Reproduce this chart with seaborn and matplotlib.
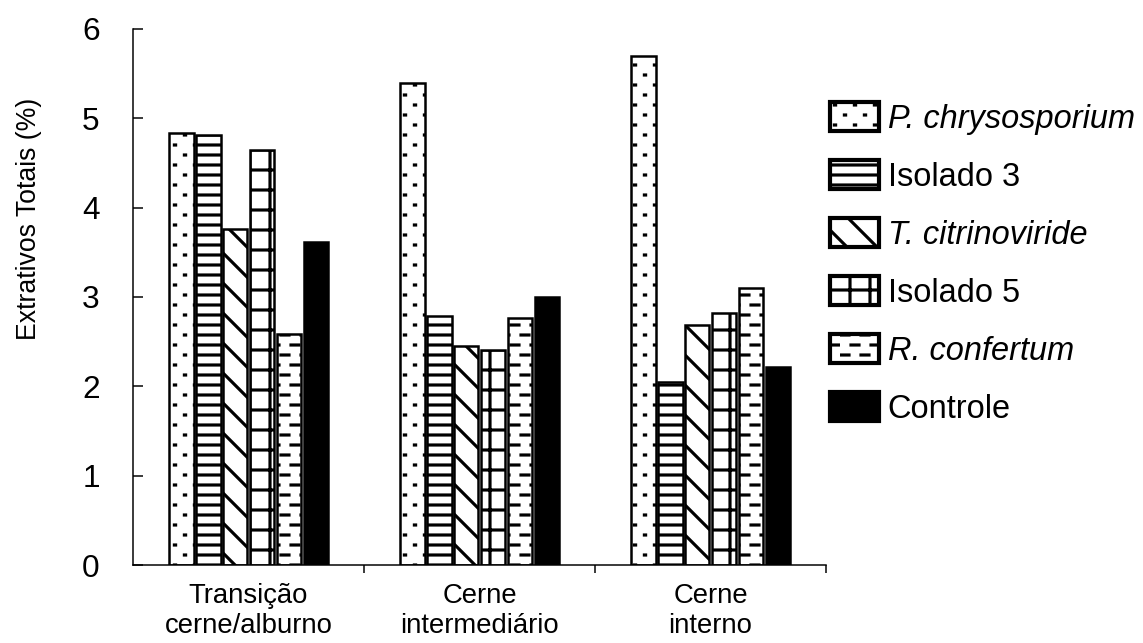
import warnings
import numpy as np
import pandas as pd
import seaborn as sns
import matplotlib.pyplot as plt
from matplotlib import hatch as mhatch
from matplotlib.path import Path
from matplotlib.ticker import FixedLocator

warnings.filterwarnings('ignore')

# --- dados ---
grupos = ['Transição\ncerne/alburno', 'Cerne\nintermediário', 'Cerne\ninterno']
tratamentos = ['P. chrysosporium', 'Isolado 3', 'T. citrinoviride',
               'Isolado 5', 'R. confertum', 'Controle']

p_chrysosporium = [4.84, 5.40, 5.70]
isolado_3 = [4.81, 2.79, 2.05]
t_citrinoviride = [3.76, 2.45, 2.69]
isolado_5 = [4.65, 2.41, 2.82]
r_confertum = [2.58, 2.77, 3.10]
controle = [3.61, 3.00, 2.22]

series = [p_chrysosporium, isolado_3, t_citrinoviride, isolado_5, r_confertum, controle]

# estilo de cada tratamento
hachuras = ['::', '--', 'd', '+', '==', '']
cores = ['white', 'white', 'white', 'white', 'white', 'black']
italico = [True, False, True, False, True, False]


# hachura "tijolo": pontos (':') ou tracos ('=') em linhas alternadas
def hachura_tijolo(char, frac):
    class Tijolo(mhatch.HatchPatternBase):
        def __init__(self, hatch, density):
            self.n = hatch.count(char) * density
            self.num_vertices = self.n * (self.n // 2) * 2

        def set_vertices_and_codes(self, vertices, codes):
            k = 0
            for i in range(self.n):
                y = (i + 0.5) / self.n
                for j in range(self.n // 2):
                    x0 = (2 * j + (i % 2) + 0.5 - frac / 2) / self.n
                    vertices[k] = (x0, y)
                    vertices[k + 1] = (x0 + frac / self.n, y)
                    codes[k] = Path.MOVETO
                    codes[k + 1] = Path.LINETO
                    k += 2
    return Tijolo


# diagonal descendente com 8 linhas por polegada ('d')
class Diagonal(mhatch.HatchPatternBase):
    def __init__(self, hatch, density):
        self.n = hatch.count('d') * 8
        self.num_vertices = (self.n + 1) * 2 if self.n else 0

    def set_vertices_and_codes(self, vertices, codes):
        steps = np.linspace(-0.5, 0.5, self.n + 1)
        vertices[0::2, 0] = 0.0 + steps
        vertices[0::2, 1] = 1.0 + steps
        vertices[1::2, 0] = 1.0 + steps
        vertices[1::2, 1] = 0.0 + steps
        codes[0::2] = Path.MOVETO
        codes[1::2] = Path.LINETO


mhatch._hatch_types.append(hachura_tijolo(':', 0.12))
mhatch._hatch_types.append(hachura_tijolo('=', 0.8))
mhatch._hatch_types.append(Diagonal)

df = pd.DataFrame({
    'grupo': grupos * len(tratamentos),
    'tratamento': [t for t in tratamentos for _ in grupos],
    'valor': [v for s in series for v in s],
})

sns.set_style('ticks', rc={'text.color': 'black', 'axes.labelcolor': 'black',
                           'xtick.color': 'black', 'ytick.color': 'black',
                           'axes.edgecolor': 'black'})
plt.rcParams['font.family'] = ['Liberation Sans', 'DejaVu Sans']
plt.rcParams['hatch.linewidth'] = 1.9

fig, ax = plt.subplots(figsize=(1143 / 120, 643 / 120), dpi=120)
fig.subplots_adjust(left=0.1164, right=0.7227, top=0.955, bottom=0.1213)

sns.barplot(data=df, x='grupo', y='valor', hue='tratamento', order=grupos,
            hue_order=tratamentos, palette=cores, saturation=1,
            edgecolor='black', linewidth=1.5, width=0.7, gap=0.08,
            legend=False, ax=ax)

for barras, h in zip(ax.containers, hachuras):
    for b in barras:
        b.set_hatch(h)

# eixos
ax.set_ylim(0, 6)
ax.set_yticks(range(7))
ax.set_xlim(-0.5, 2.5)
ax.set_xlabel('')
ax.set_ylabel('Extrativos Totais (%)', fontsize=16)
ax.yaxis.set_label_coords(-0.131, 0.645)
ax.tick_params(axis='y', direction='in', length=6, width=0.9, labelsize=19, pad=20)
ax.tick_params(axis='x', which='major', length=0, labelsize=16.5, pad=11)
ax.xaxis.set_minor_locator(FixedLocator([0.5, 1.5, 2.5]))
ax.tick_params(axis='x', which='minor', direction='out', length=5, width=0.9, bottom=True)
for s in ['left', 'bottom']:
    ax.spines[s].set_linewidth(0.9)
sns.despine(ax=ax)

# legenda
leg = ax.legend(ax.containers, tratamentos, loc='upper left',
                bbox_to_anchor=(0.7262, 0.841), bbox_transform=fig.transFigure,
                frameon=False, fontsize=19.5, handlelength=1.52, handleheight=1.0,
                handletextpad=0.25, labelspacing=0.78, borderpad=0, borderaxespad=0)
for txt, it in zip(leg.get_texts(), italico):
    if it:
        txt.set_fontstyle('italic')
for p in leg.get_patches():
    p.set_linewidth(2.5)

fig.savefig('out.png', dpi=120)
